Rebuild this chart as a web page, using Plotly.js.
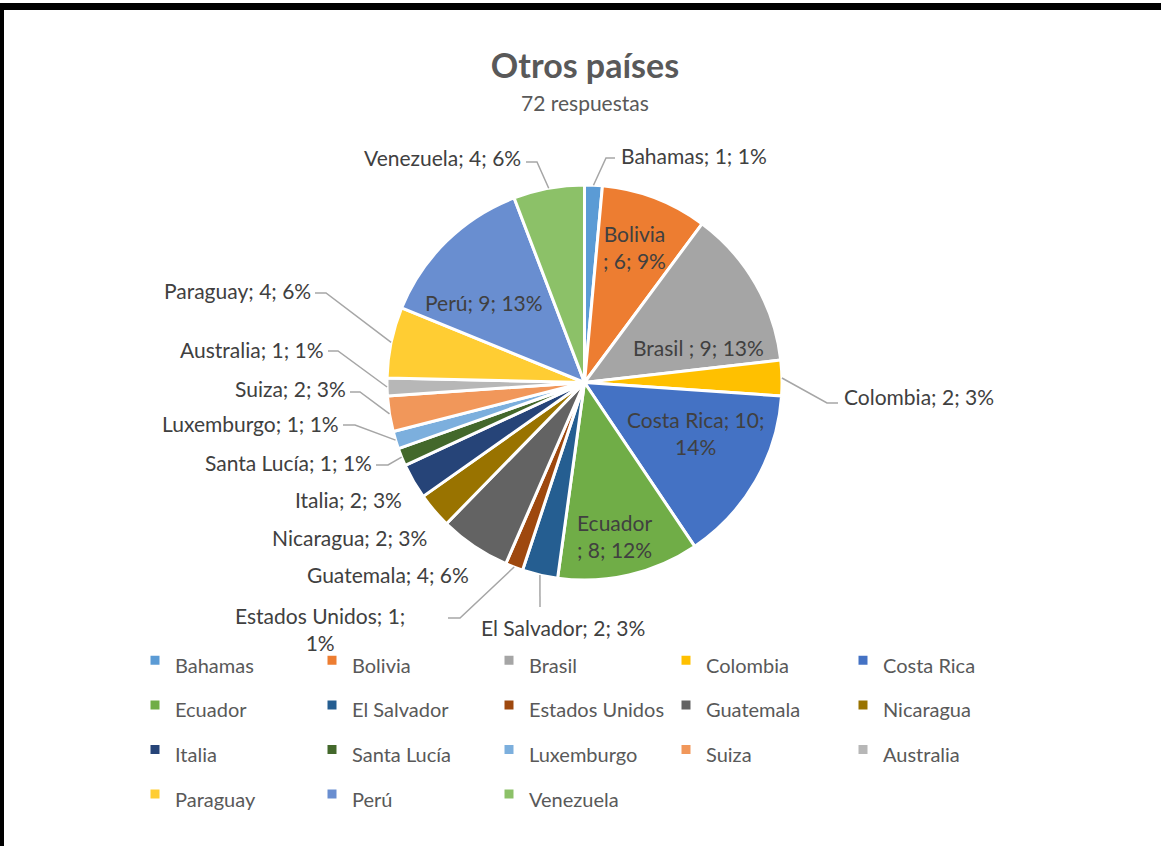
<!DOCTYPE html>
<html>
<head>
<meta charset="utf-8">
<script src="https://cdn.plot.ly/plotly-3.0.1.min.js"></script>
<style>
  html, body { margin: 0; padding: 0; background: #ffffff; }
  #wrap { position: relative; width: 1161px; height: 846px; overflow: hidden; }
  #chart { position: absolute; left: 0; top: 0; width: 1161px; height: 846px; }
  .bar { position: absolute; background: #000; }
</style>
</head>
<body>
<div id="wrap">
  <div id="chart"></div>
  <div class="bar" style="left:0;top:3px;width:1161px;height:7px;"></div>
  <div class="bar" style="left:0;top:3px;width:4px;height:843px;"></div>
</div>
<script>
// ---- data ----
const countries = ["Bahamas", "Bolivia", "Brasil", "Colombia", "Costa Rica", "Ecuador",
  "El Salvador", "Estados Unidos", "Guatemala", "Nicaragua", "Italia", "Santa Lucía",
  "Luxemburgo", "Suiza", "Australia", "Paraguay", "Perú", "Venezuela"];
const counts = [1, 6, 9, 2, 10, 8, 2, 1, 4, 2, 2, 1, 1, 2, 1, 4, 9, 4];
const colors = ["#5B9BD5", "#ED7D31", "#A5A5A5", "#FFC000", "#4472C4", "#70AD47",
  "#255E91", "#9E480E", "#636363", "#997300", "#264478", "#43682B",
  "#7CAFDD", "#F1975A", "#B7B7B7", "#FFCD33", "#698ED0", "#8CC168"];
const titleText = "Otros países";
const subtitleText = "72 respuestas";

// ---- layout constants (pixels) ----
const W = 1161, H = 846;
const ML = 100, MR = 100, MT = 0, MB = 230;
const PW = W - ML - MR, PH = H - MT - MB;
const CX = 584.5, CY = 382.5, R = 197.5;
const FONT = "Lato, 'Noto Sans', sans-serif";
const TXT = "#404040";

// label placement: [x, y, xanchor, lineBreak, elbow]
const labelPlace = {
  "Bahamas":        [619, 155, "left",   null,   [[615,158],[606,158]]],
  "Bolivia":        [634, 247, "center", "name", null],
  "Brasil":         [698, 347, "center", "brasil", null],
  "Colombia":       [842, 397, "left",   null,   [[838,403],[827,403]]],
  "Costa Rica":     [695, 433, "center", "value", null],
  "Ecuador":        [614, 536, "center", "name", null],
  "El Salvador":    [563, 627, "center", null,   [[540,607],[540,607]]],
  "Estados Unidos": [320, 629, "center", "value", [[448,618],[460,618]]],
  "Guatemala":      [471, 574, "right",  null,   null],
  "Nicaragua":      [429, 537, "right",  null,   null],
  "Italia":         [404, 499, "right",  null,   null],
  "Santa Lucía":    [374, 462, "right",  null,   [[376,465],[388,465]]],
  "Luxemburgo":     [341, 423, "right",  null,   [[343,425],[355,425]]],
  "Suiza":          [348, 389, "right",  null,   [[350,392],[360,392]]],
  "Australia":      [326, 349, "right",  null,   [[328,351],[338,351]]],
  "Paraguay":       [313, 290, "right",  null,   [[315,293],[326,293]]],
  "Perú":           [484, 302, "center", null,   null],
  "Venezuela":      [523, 157, "right",  null,   [[526,162],[537,162]]]
};

const total = counts.reduce((a, b) => a + b, 0);
const px = x => (x - ML) / PW;
const py = y => 1 - (y - MT) / PH;

const annotations = [];
const shapes = [];
let cum = 0;
countries.forEach((name, i) => {
  const v = counts[i];
  const pct = Math.round(v / total * 100);
  const mid = (cum + v / 2) / total * 2 * Math.PI;
  cum += v;
  const p = labelPlace[name];
  let text;
  if (p[3] === "name") text = name + "<br>; " + v + "; " + pct + "%";
  else if (p[3] === "value") text = name + "; " + v + ";<br>" + pct + "%";
  else if (p[3] === "brasil") text = name + " ; " + v + "; " + pct + "%";
  else text = name + "; " + v + "; " + pct + "%";
  annotations.push({
    xref: "paper", yref: "paper", x: px(p[0]), y: py(p[1]),
    xanchor: p[2], yanchor: "middle", align: "center",
    text: text, showarrow: false,
    font: {family: FONT, size: 21, color: TXT}
  });
  if (p[4]) {
    const ex = CX + R * Math.sin(mid);
    const ey = CY - R * Math.cos(mid);
    const pts = [p[4][0], p[4][1], [ex, ey]];
    const d = "M" + pts.map(q => px(q[0]) + "," + py(q[1])).join(" L");
    shapes.push({type: "path", xref: "paper", yref: "paper", path: d,
      line: {color: "#A6A6A6", width: 1.5}, layer: "above"});
  }
});

// subtitle
annotations.push({
  xref: "paper", yref: "paper", x: px(585), y: py(103), xanchor: "center", yanchor: "middle",
  text: subtitleText, showarrow: false, font: {family: FONT, size: 21, color: "#595959"}
});

const legendNames = countries.map(n => '<span style="font-size:20px">' + n + '</span>');

const trace = {
  type: "pie",
  labels: legendNames,
  values: counts,
  sort: false,
  direction: "clockwise",
  rotation: 0,
  marker: {colors: colors, line: {color: "#ffffff", width: 3}},
  textinfo: "none",
  hoverinfo: "skip",
  domain: {x: [px(CX - R), px(CX + R)], y: [py(CY + R), py(CY - R)]}
};

const layout = {
  width: W, height: H,
  margin: {l: ML, r: MR, t: MT, b: MB, pad: 0},
  paper_bgcolor: "#ffffff",
  font: {family: FONT, color: "#595959"},
  title: {
    text: "<b>" + titleText + "</b>",
    font: {family: FONT, size: 34, color: "#595959"},
    x: px(585), xanchor: "center", xref: "paper",
    y: 1 - 66 / H, yanchor: "middle", yref: "container"
  },
  showlegend: true,
  legend: {
    orientation: "h",
    xref: "paper", yref: "container",
    x: px(135), xanchor: "left",
    y: 1 - 633 / H, yanchor: "top",
    entrywidth: 132, entrywidthmode: "pixels",
    font: {family: FONT, size: 32, color: "#595959"},
    traceorder: "normal"
  },
  annotations: annotations,
  shapes: shapes
};

Plotly.newPlot("chart", [trace], layout, {displayModeBar: false, staticPlot: true});
</script>
</body>
</html>
